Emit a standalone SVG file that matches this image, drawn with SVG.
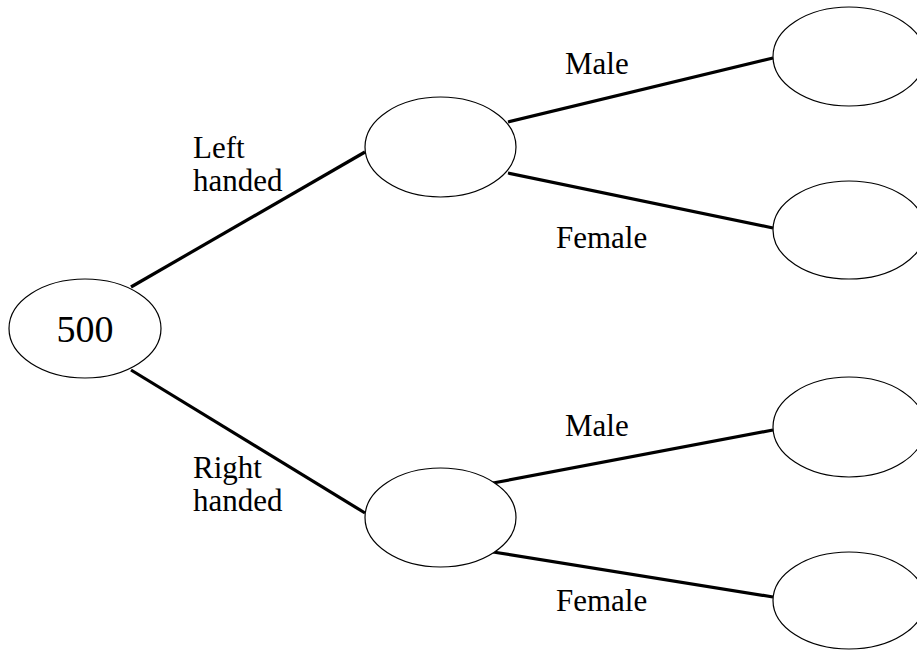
<svg xmlns="http://www.w3.org/2000/svg" width="917" height="650" viewBox="0 0 917 650">
<style>
.node{fill:#fff;stroke:#000;stroke-width:1.2}
.edge{stroke:#000;stroke-width:3.2;fill:none}
.lbl{font-family:'Liberation Serif','Times New Roman',serif;font-size:31px;fill:#000}
.big{font-family:'Liberation Serif','Times New Roman',serif;font-size:38px;fill:#000}
</style>
<rect width="917" height="650" fill="#fff"/>
<g id="connectors">
<line class="edge" x1="131" y1="287" x2="365" y2="152"/>
<line class="edge" x1="131" y1="370" x2="365" y2="513"/>
<line class="edge" x1="508" y1="122" x2="773" y2="58"/>
<line class="edge" x1="508" y1="173" x2="773" y2="228"/>
<line class="edge" x1="493" y1="483" x2="773" y2="430"/>
<line class="edge" x1="493" y1="552" x2="773" y2="597"/>
</g>
<g id="root"><ellipse class="node" cx="85" cy="328.5" rx="76" ry="49.5"/><text class="big" x="85" y="342" text-anchor="middle">500</text></g>
<g id="left"><ellipse class="node" cx="440.5" cy="147" rx="75.5" ry="50"/></g>
<g id="right"><ellipse class="node" cx="440.5" cy="517.5" rx="75.5" ry="49.5"/></g>
<g id="leaf1"><ellipse class="node" cx="849" cy="56.5" rx="76" ry="49.5"/></g>
<g id="leaf2"><ellipse class="node" cx="849" cy="230" rx="76" ry="49"/></g>
<g id="leaf3"><ellipse class="node" cx="849" cy="427" rx="76" ry="50"/></g>
<g id="leaf4"><ellipse class="node" cx="849" cy="600.5" rx="76" ry="48.5"/></g>
<g id="labels">
<text class="lbl" x="193" y="158">Left</text>
<text class="lbl" x="193" y="191">handed</text>
<text class="lbl" x="193" y="478">Right</text>
<text class="lbl" x="193" y="511">handed</text>
<text class="lbl" x="565" y="74">Male</text>
<text class="lbl" x="556" y="248">Female</text>
<text class="lbl" x="565" y="436">Male</text>
<text class="lbl" x="556" y="611">Female</text>
</g>
</svg>
